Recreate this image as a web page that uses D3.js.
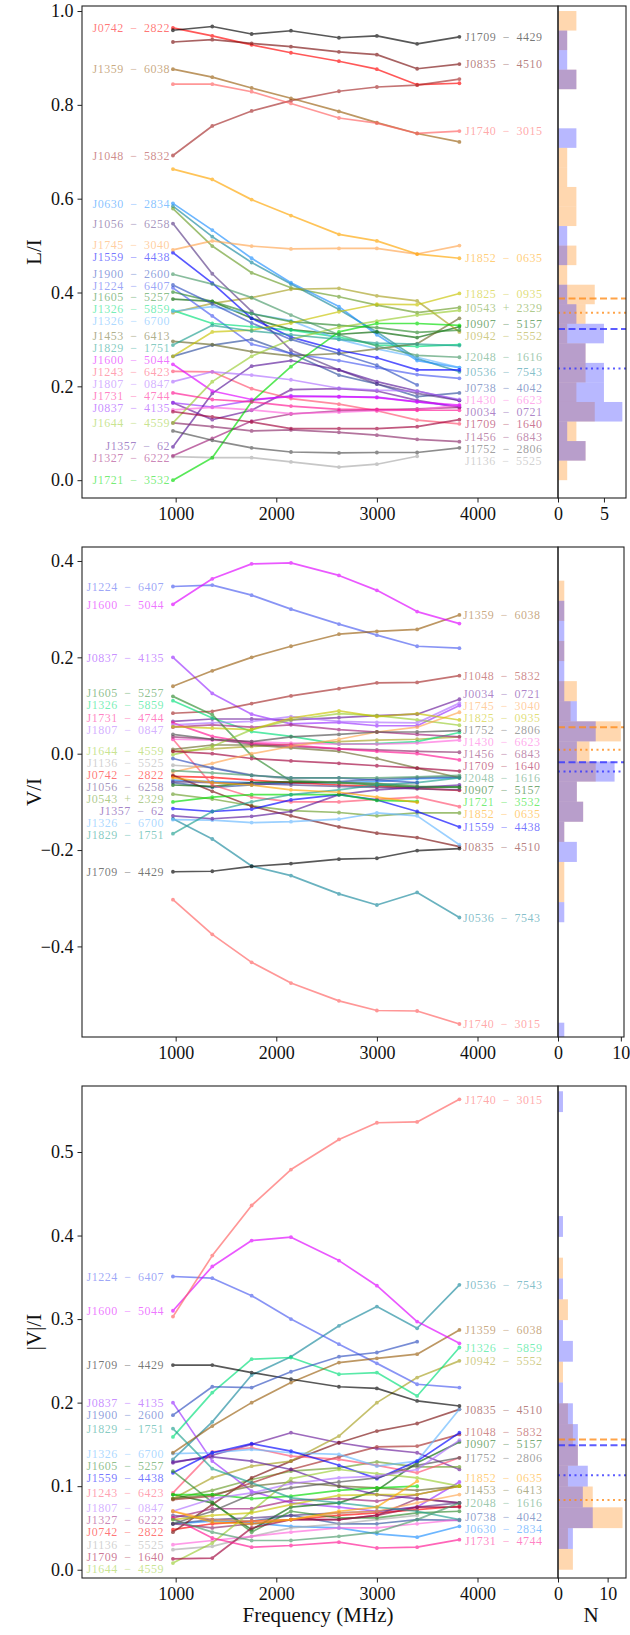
<!DOCTYPE html>
<html><head><meta charset="utf-8">
<script src="https://cdn.jsdelivr.net/npm/d3@7"></script>
<style>
body{margin:0;background:#fff;}
svg text{font-family:"Liberation Serif","DejaVu Serif",serif;fill:#111;}
</style></head><body>
<svg id="chart" width="630" height="1635"></svg>
<script>
// Observing frequencies (MHz)
const freqs = [973, 1364, 1755, 2146, 2623, 3000, 3400, 3820];

const pulsars = [
  "J0034−0721","J0536−7543","J0543+2329","J0630−2834","J0738−4042","J0742−2822","J0835−4510","J0837−4135",
  "J0907−5157","J0942−5552","J1048−5832","J1056−6258","J1136−5525","J1224−6407","J1243−6423","J1326−5859",
  "J1326−6700","J1327−6222","J1357−62","J1359−6038","J1430−6623","J1453−6413","J1456−6843","J1559−4438",
  "J1600−5044","J1605−5257","J1644−4559","J1709−1640","J1709−4429","J1721−3532","J1731−4744","J1740−3015",
  "J1745−3040","J1752−2806","J1807−0847","J1825−0935","J1829−1751","J1852−0635","J1900−2600","J2048−1616"
];

const colours = [
  "#6a1b9a","#1a8a9e","#6b9e2a","#1e90ff","#2f4f9f","#ff0000","#7a0f0f","#9b30ff",
  "#006400","#a8a020","#a52a2a","#5b3c88","#aaaaaa","#4a5cf0","#ff5070","#00e07a",
  "#66b8ff","#a0207a","#5a189a","#9a6010","#ff66dd","#6b6b2a","#8b2a6a","#0000ff",
  "#e000ff","#2e8b2e","#9acd32","#a0003a","#000000","#00dd00","#ff1493","#ff6060",
  "#ffa54f","#505050","#b070ff","#c8c400","#20a090","#ffa500","#3050c0","#4a9a6a"
];

// Linear polarisation fraction L/I
const linFrac = [
  [0.165,0.129,0.149,0.193,0.195,0.19,0.17,0.155],
  [0.584,0.519,0.464,0.418,0.364,0.316,0.259,0.231],
  [0.579,0.499,0.442,0.41,0.391,0.373,0.357,0.368],
  [0.590,0.533,0.473,0.421,0.37,0.31,0.255,0.24],
  [0.264,0.288,0.30,0.27,0.224,0.205,0.178,0.186],
  [0.964,0.947,0.928,0.911,0.893,0.876,0.843,0.846],
  [0.934,0.939,0.931,0.924,0.913,0.907,0.877,0.887],
  [0.165,0.156,0.17,0.18,0.178,0.177,0.167,0.157],
  [0.386,0.381,0.345,0.321,0.311,0.316,0.304,0.327],
  [0.357,0.377,0.389,0.407,0.409,0.393,0.382,0.316],
  [0.692,0.755,0.787,0.809,0.829,0.838,0.842,0.855],
  [0.547,0.44,0.36,0.277,0.235,0.205,0.185,0.17],
  [0.05,0.048,0.048,0.039,0.028,0.034,0.051,null],
  [0.41,0.35,0.29,0.27,0.255,0.24,0.225,0.217],
  [0.232,0.231,0.195,0.174,0.162,0.148,0.128,0.12],
  [0.362,0.334,0.327,0.32,0.305,0.288,0.285,0.289],
  [0.36,0.37,0.355,0.34,0.30,0.28,0.262,0.24],
  [0.052,0.089,0.126,0.141,0.148,0.15,0.152,0.155],
  [0.071,0.185,0.243,0.255,0.235,0.21,0.19,0.17],
  [0.876,0.859,0.836,0.814,0.786,0.762,0.739,0.721],
  [0.15,0.155,0.15,0.142,0.145,0.148,0.15,0.16],
  [0.296,0.289,0.274,0.265,0.27,0.28,0.291,0.345],
  [0.122,0.114,0.105,0.107,0.102,0.096,0.087,0.082],
  [0.485,0.42,0.345,0.305,0.277,0.261,0.235,0.235],
  [0.247,0.19,0.172,0.178,0.178,0.176,0.167,0.16],
  [0.401,0.381,0.355,0.338,0.33,0.325,0.315,0.32],
  [0.122,0.21,0.264,0.30,0.326,0.339,0.352,0.362],
  [0.146,0.135,0.124,0.11,0.11,0.11,0.114,0.129],
  [0.959,0.967,0.951,0.958,0.943,0.947,0.930,0.945],
  [0.0,0.048,0.167,0.242,0.316,0.334,0.334,0.330],
  [0.186,0.172,0.167,0.158,0.151,0.151,0.149,0.149],
  [0.844,0.844,0.828,0.803,0.772,0.761,0.739,0.744],
  [0.491,0.510,0.499,0.493,0.494,0.494,0.482,0.500],
  [0.105,0.085,0.069,0.06,0.058,0.059,0.059,0.069],
  [0.21,0.231,0.224,0.214,0.196,0.192,0.19,0.172],
  [0.264,0.316,0.320,0.335,0.359,0.375,0.374,0.398],
  [0.288,0.33,0.318,0.31,0.30,0.292,0.29,0.287],
  [0.663,0.641,0.598,0.564,0.524,0.510,0.482,0.473],
  [0.416,0.376,0.335,0.300,0.27,0.245,0.203,null],
  [0.439,0.418,0.389,0.352,0.31,0.286,0.266,0.262]
];

// Circular polarisation fraction V/I
const circFrac = [
  [0.067,0.072,0.072,0.07,0.075,0.079,0.082,0.113],
  [-0.135,-0.177,-0.233,-0.253,-0.291,-0.314,-0.288,-0.34],
  [-0.084,-0.094,-0.108,-0.118,-0.122,-0.129,-0.123,-0.123],
  [-0.055,-0.058,-0.06,-0.062,-0.06,-0.058,-0.052,-0.05],
  [-0.06,-0.07,-0.065,-0.06,-0.058,-0.053,-0.05,-0.048],
  [-0.047,-0.049,-0.055,-0.06,-0.065,-0.068,-0.072,-0.076],
  [-0.045,-0.078,-0.109,-0.129,-0.152,-0.165,-0.174,-0.193],
  [0.2,0.125,0.082,0.062,0.065,0.058,0.058,0.1],
  [-0.065,-0.068,-0.06,-0.058,-0.06,-0.065,-0.07,-0.069],
  [0.005,0.01,0.015,0.02,0.025,0.028,0.03,0.035],
  [0.084,0.088,0.104,0.12,0.135,0.147,0.148,0.162],
  [-0.058,-0.06,-0.062,-0.065,-0.068,-0.07,-0.073,-0.075],
  [-0.024,-0.029,-0.044,-0.054,-0.06,-0.062,-0.065,null],
  [0.347,0.35,0.329,0.300,0.269,0.246,0.223,0.219],
  [0.03,-0.065,-0.09,-0.1,-0.1,-0.095,-0.09,-0.11],
  [0.110,0.074,0.046,0.036,0.02,0.021,0.025,0.044],
  [-0.137,-0.138,-0.143,-0.141,-0.136,-0.123,-0.129,-0.189],
  [0.055,0.06,0.055,0.06,0.05,0.045,0.04,0.035],
  [-0.129,-0.135,-0.13,-0.12,-0.085,-0.075,-0.07,-0.065],
  [0.14,0.172,0.2,0.223,0.248,0.254,0.258,0.288],
  [0.03,0.028,0.025,0.022,0.02,0.02,0.022,0.028],
  [0.009,0.018,0.018,0.012,0.005,-0.01,-0.03,-0.05],
  [0.035,0.03,0.02,0.015,0.01,0.008,0.005,0.003],
  [-0.114,-0.12,-0.115,-0.096,-0.085,-0.096,-0.12,-0.152],
  [0.310,0.363,0.394,0.396,0.370,0.339,0.295,0.270],
  [0.119,0.081,-0.004,-0.057,-0.06,-0.062,-0.068,-0.07],
  [-0.002,0.015,0.05,0.07,0.083,0.079,0.07,0.059],
  [0.005,0.0,-0.01,-0.015,-0.02,-0.025,-0.03,-0.036],
  [-0.245,-0.244,-0.234,-0.228,-0.219,-0.217,-0.201,-0.197],
  [-0.1,-0.09,-0.085,-0.085,-0.085,-0.097,-0.099,null],
  [0.064,0.036,0.022,0.018,0.01,0.005,0.0,-0.013],
  [-0.303,-0.375,-0.433,-0.476,-0.513,-0.533,-0.534,-0.561],
  [-0.038,-0.02,0.0,0.015,0.03,0.045,0.055,0.086],
  [0.04,0.03,0.025,0.035,0.04,0.045,0.045,0.048],
  [0.06,0.064,0.067,0.077,0.067,0.065,0.064,0.105],
  [0.056,0.053,0.05,0.074,0.089,0.077,0.083,0.07],
  [-0.166,-0.12,-0.1,-0.085,-0.075,-0.065,-0.06,-0.05],
  [-0.05,-0.06,-0.065,-0.075,-0.08,-0.09,-0.101,null],
  [-0.01,-0.03,-0.045,-0.05,-0.05,-0.055,-0.06,null],
  [-0.035,-0.04,-0.045,-0.05,-0.05,-0.05,-0.048,-0.045]
];

// Absolute circular polarisation fraction |V|/I
const absCircFrac = [
  [0.128,0.137,0.15,0.164,0.152,0.145,0.14,0.12],
  [0.132,0.177,0.233,0.255,0.292,0.315,0.289,0.341],
  [0.085,0.095,0.108,0.118,0.122,0.129,0.123,0.123],
  [0.055,0.058,0.056,0.052,0.05,0.043,0.039,0.052],
  [0.055,0.06,0.058,0.065,0.055,0.055,0.06,0.059],
  [0.048,0.055,0.058,0.06,0.065,0.068,0.072,0.076],
  [0.045,0.078,0.11,0.13,0.152,0.166,0.175,0.192],
  [0.2,0.13,0.094,0.08,0.075,0.07,0.075,0.105],
  [0.09,0.08,0.048,0.075,0.08,0.095,0.128,0.153],
  [0.085,0.11,0.124,0.13,0.16,0.2,0.23,0.25],
  [0.084,0.088,0.104,0.12,0.135,0.147,0.148,0.162],
  [0.065,0.06,0.062,0.065,0.068,0.07,0.075,0.08],
  [0.024,0.028,0.04,0.05,0.055,0.06,0.065,null],
  [0.351,0.349,0.328,0.300,0.27,0.247,0.222,0.218],
  [0.092,0.141,0.146,0.136,0.132,0.125,0.116,0.134],
  [0.159,0.212,0.252,0.254,0.234,0.236,0.208,0.266],
  [0.139,0.14,0.144,0.14,0.138,0.124,0.13,0.192],
  [0.062,0.073,0.073,0.083,0.085,0.082,0.09,0.1],
  [0.129,0.135,0.13,0.12,0.1,0.09,0.085,0.08],
  [0.14,0.172,0.2,0.224,0.248,0.253,0.258,0.287],
  [0.03,0.035,0.04,0.045,0.05,0.05,0.055,0.06],
  [0.085,0.09,0.1,0.105,0.1,0.098,0.095,0.1],
  [0.055,0.05,0.055,0.06,0.06,0.065,0.085,0.08],
  [0.116,0.14,0.151,0.142,0.125,0.109,0.13,0.164],
  [0.31,0.363,0.394,0.398,0.37,0.34,0.297,0.271],
  [0.118,0.081,0.045,0.07,0.062,0.062,0.068,0.07],
  [0.008,0.032,0.07,0.109,0.12,0.115,0.11,0.1],
  [0.013,0.014,0.05,0.06,0.06,0.065,0.075,0.075],
  [0.245,0.245,0.236,0.228,0.219,0.217,0.202,0.196],
  [0.09,0.09,0.085,0.088,0.095,0.098,0.1,null],
  [0.062,0.038,0.027,0.029,0.033,0.026,0.027,0.036],
  [0.303,0.376,0.436,0.479,0.515,0.535,0.536,0.563],
  [0.07,0.06,0.058,0.06,0.068,0.07,0.08,0.09],
  [0.055,0.07,0.09,0.098,0.105,0.11,0.125,0.134],
  [0.07,0.085,0.092,0.103,0.11,0.112,0.12,0.155],
  [0.06,0.065,0.068,0.078,0.089,0.09,0.09,0.1],
  [0.169,0.121,0.104,0.086,0.08,0.075,0.07,0.06],
  [0.07,0.057,0.055,0.06,0.07,0.075,0.106,null],
  [0.185,0.219,0.218,0.237,0.255,0.26,0.273,null],
  [0.06,0.045,0.035,0.035,0.04,0.045,0.06,0.08]
];

// Which sources get a name tag on each side of each panel
const linLabelsLeft = ["J0742−2822","J1359−6038","J1048−5832","J0630−2834","J1056−6258","J1745−3040","J1559−4438","J1900−2600","J1224−6407","J1605−5257","J1326−5859","J1326−6700","J1453−6413","J1829−1751","J1600−5044","J1243−6423","J1807−0847","J1731−4744","J0837−4135","J1644−4559","J1357−62","J1327−6222","J1721−3532"];
const linLabelsRight = ["J1709−4429","J0835−4510","J1740−3015","J1852−0635","J1825−0935","J0543+2329","J0907−5157","J0942−5552","J2048−1616","J0536−7543","J0738−4042","J1430−6623","J0034−0721","J1709−1640","J1456−6843","J1752−2806","J1136−5525"];
const circLabelsLeft = ["J1224−6407","J1600−5044","J0837−4135","J1605−5257","J1326−5859","J1731−4744","J1807−0847","J1644−4559","J1136−5525","J0742−2822","J1056−6258","J0543+2329","J1357−62","J1326−6700","J1829−1751","J1709−4429"];
const circLabelsRight = ["J1359−6038","J1048−5832","J0034−0721","J1745−3040","J1825−0935","J1752−2806","J1430−6623","J1456−6843","J1709−1640","J2048−1616","J0907−5157","J1721−3532","J1852−0635","J1559−4438","J0835−4510","J0536−7543","J1740−3015"];
const absLabelsLeft = ["J1224−6407","J1600−5044","J1709−4429","J0837−4135","J1900−2600","J1829−1751","J1326−6700","J1605−5257","J1559−4438","J1243−6423","J1807−0847","J1327−6222","J0742−2822","J1136−5525","J1709−1640","J1644−4559"];
const absLabelsRight = ["J1740−3015","J0536−7543","J1359−6038","J1326−5859","J0942−5552","J0835−4510","J1048−5832","J0907−5157","J1752−2806","J1852−0635","J1453−6413","J2048−1616","J0738−4042","J0630−2834","J1731−4744"];

// Histograms of the lowest (first) and highest (last) frequency values: bin start, bin width, counts from low to high
const linHistStart = 0, linHistWidth = 1 / 24;
const linHistFirst = [1,3,2,4,2,3,3,1,3,4,1,2,0,2,2,1,1,0,0,0,2,0,1,2];
const linHistLast  = [0,3,1,7,5,5,3,5,2,1,0,1,1,0,0,0,0,2,0,0,2,1,1,0];
const linStats = [0.387, 0.357, 0.322, 0.238];   // mean/median first, mean/median last

const circHistStart = -0.600, circHistWidth = 0.0417;
const circHistFirst = [0,0,0,0,0,0,0,1,1,0,1,4,3,6,5,10,2,3,0,1,0,1,1];
const circHistLast  = [1,0,0,0,0,0,1,0,0,3,1,4,3,9,3,6,3,1,1,1,1,1,0];
const circStats = [0.055, 0.008, -0.018, -0.037];

const absHistStart = 0, absHistWidth = 0.0249;
const absHistFirst = [3,2,13,7,2,4,3,2,0,1,0,0,2,0,1,0,0,0,0,0,0,0,0];
const absHistLast  = [0,3,7,5,6,4,4,3,1,0,3,1,0,1,0,0,1,0,0,0,0,0,1];
const absStats = [0.156, 0.0836, 0.149, 0.113];

// ---------------------------------------------------------------------------
const svg = d3.select("#chart");
const mainLeft = 82, mainRight = 558;
const x = d3.scaleLinear().domain([69, 4800]).range([mainLeft, mainRight]);
const FIRST_COL = "#ff8c1a", LAST_COL = "#3333ff";
const pretty = n => n.replace("−", "\u2002−\u2002").replace("+", "\u2002+\u2002");

const panels = [
  {values: linFrac, title: "L/I", top: 6, bottom: 498, domain: [-0.038, 1.0107],
   ticks: [0, 0.2, 0.4, 0.6, 0.8, 1.0], leftEnd: 170, rightStart: 465,
   leftNames: linLabelsLeft, rightNames: linLabelsRight,
   hist: {start: linHistStart, width: linHistWidth, first: linHistFirst, last: linHistLast, stats: linStats},
   histRight: 626, histMax: 7.4, histTicks: [0, 5]},
  {values: circFrac, title: "V/I", top: 547, bottom: 1037, domain: [-0.588, 0.429],
   ticks: [-0.4, -0.2, 0, 0.2, 0.4], leftEnd: 164, rightStart: 463,
   leftNames: circLabelsLeft, rightNames: circLabelsRight,
   hist: {start: circHistStart, width: circHistWidth, first: circHistFirst, last: circHistLast, stats: circStats},
   histRight: 624, histMax: 10.5, histTicks: [0, 10]},
  {values: absCircFrac, title: "|V|/I", top: 1086, bottom: 1578, domain: [-0.0099, 0.579],
   ticks: [0, 0.1, 0.2, 0.3, 0.4, 0.5], leftEnd: 164, rightStart: 465,
   leftNames: absLabelsLeft, rightNames: absLabelsRight,
   hist: {start: absHistStart, width: absHistWidth, first: absHistFirst, last: absHistLast, stats: absStats},
   histRight: 626, histMax: 13.7, histTicks: [0, 10]}
];

// push labels apart so they keep a minimum vertical gap
function spread(items, gap, lo, hi) {
  items.sort((a, b) => a.y - b.y);
  for (let it = 0; it < 600; it++) {
    let moved = false;
    for (let i = 1; i < items.length; i++) {
      const d = items[i].y - items[i - 1].y;
      if (d < gap - 0.01) { const s = (gap - d) / 2; items[i].y += s; items[i - 1].y -= s; moved = true; }
    }
    if (items.length) {
      if (items[0].y < lo) { items[0].y = lo; moved = true; }
      const n = items.length - 1;
      if (items[n].y > hi) { items[n].y = hi; moved = true; }
    }
    if (!moved) break;
  }
}

panels.forEach((p, pi) => {
  const y = d3.scaleLinear().domain(p.domain).range([p.bottom, p.top]);
  const g = svg.append("g");
  const clipId = "clip" + pi, hClipId = "hclip" + pi;
  svg.append("clipPath").attr("id", clipId).append("rect")
    .attr("x", mainLeft).attr("y", p.top).attr("width", mainRight - mainLeft).attr("height", p.bottom - p.top);
  svg.append("clipPath").attr("id", hClipId).append("rect")
    .attr("x", mainRight).attr("y", p.top).attr("width", p.histRight - mainRight).attr("height", p.bottom - p.top);

  // series lines and points
  const line = d3.line().defined(d => d.v !== null).x(d => x(d.f)).y(d => y(d.v));
  const plot = g.append("g").attr("clip-path", `url(#${clipId})`);
  pulsars.forEach((name, i) => {
    const pts = freqs.map((f, j) => ({f, v: p.values[i][j]}));
    const s = plot.append("g").attr("opacity", 0.65);
    s.append("path").attr("d", line(pts)).attr("fill", "none")
      .attr("stroke", colours[i]).attr("stroke-width", 1.7).attr("stroke-linejoin", "round");
    s.selectAll("circle").data(pts.filter(d => d.v !== null)).join("circle")
      .attr("cx", d => x(d.f)).attr("cy", d => y(d.v)).attr("r", 1.9).attr("fill", colours[i]);
  });

  // name tags
  const tag = (names, side) => {
    const items = names.map(n => {
      const i = pulsars.indexOf(n);
      const vals = p.values[i].filter(v => v !== null);
      const v = side === "left" ? vals[0] : vals[vals.length - 1];
      return {n, i, y: y(v)};
    });
    spread(items, 12, p.top + 6, p.bottom - 6);
    g.append("g").selectAll("text").data(items).join("text")
      .attr("x", side === "left" ? p.leftEnd : p.rightStart)
      .attr("y", d => d.y).attr("dy", "0.35em")
      .attr("text-anchor", side === "left" ? "end" : "start")
      .style("font-size", "12px").style("letter-spacing", "0.5px")
      .style("fill", d => colours[d.i]).attr("fill-opacity", 0.55)
      .text(d => pretty(d.n));
  };
  tag(p.leftNames, "left");
  tag(p.rightNames, "right");

  // histogram panel
  const hx = d3.scaleLinear().domain([0, p.histMax]).range([mainRight, p.histRight]);
  const hg = g.append("g").attr("clip-path", `url(#${hClipId})`);
  const bars = (counts, col) => {
    hg.append("g").selectAll("rect").data(counts.map((c, k) => ({c, k})).filter(d => d.c > 0)).join("rect")
      .attr("x", hx(0))
      .attr("y", d => y(p.hist.start + (d.k + 1) * p.hist.width))
      .attr("width", d => hx(d.c) - hx(0))
      .attr("height", d => y(p.hist.start + d.k * p.hist.width) - y(p.hist.start + (d.k + 1) * p.hist.width))
      .attr("fill", col).attr("fill-opacity", 0.35);
  };
  bars(p.hist.first, FIRST_COL);
  bars(p.hist.last, LAST_COL);
  const st = p.hist.stats;
  [[st[0], FIRST_COL, "7,3.5"], [st[1], FIRST_COL, "2,3.5"], [st[2], LAST_COL, "7,3.5"], [st[3], LAST_COL, "2,3.5"]]
    .forEach(([v, c, dash]) => {
      hg.append("line").attr("x1", mainRight).attr("x2", p.histRight)
        .attr("y1", y(v)).attr("y2", y(v)).attr("stroke", c).attr("stroke-opacity", 0.8)
        .attr("stroke-width", 2).attr("stroke-dasharray", dash);
    });

  // axes
  const yAxis = g.append("g").attr("transform", `translate(${mainLeft},0)`)
    .call(d3.axisLeft(y).tickValues(p.ticks).tickFormat(d3.format(".1f")).tickSize(4.5).tickPadding(4));
  const xAxis = g.append("g").attr("transform", `translate(0,${p.bottom})`)
    .call(d3.axisBottom(x).tickValues([1000, 2000, 3000, 4000]).tickFormat(d3.format("d")).tickSize(4.5).tickPadding(5));
  const hAxis = g.append("g").attr("transform", `translate(0,${p.bottom})`)
    .call(d3.axisBottom(hx).tickValues(p.histTicks).tickFormat(d3.format("d")).tickSize(4.5).tickPadding(5));
  [yAxis, xAxis, hAxis].forEach(a => {
    a.select(".domain").remove();
    a.selectAll("text").style("font-size", "18px").style("font-family", '"Liberation Serif", serif').attr("fill", "#111");
    a.selectAll("line").attr("stroke", "#222");
  });

  // frames
  g.append("rect").attr("x", mainLeft).attr("y", p.top).attr("width", mainRight - mainLeft).attr("height", p.bottom - p.top)
    .attr("fill", "none").attr("stroke", "#222").attr("stroke-width", 1.1);
  g.append("rect").attr("x", mainRight).attr("y", p.top).attr("width", p.histRight - mainRight).attr("height", p.bottom - p.top)
    .attr("fill", "none").attr("stroke", "#222").attr("stroke-width", 1.1);

  // y title
  g.append("text").attr("transform", `translate(41,${(p.top + p.bottom) / 2}) rotate(-90)`)
    .attr("text-anchor", "middle").style("font-size", "21px").text(p.title);
});

svg.append("text").attr("x", 318).attr("y", 1622).attr("text-anchor", "middle")
  .style("font-size", "21px").text("Frequency (MHz)");
svg.append("text").attr("x", 591).attr("y", 1622).attr("text-anchor", "middle")
  .style("font-size", "21px").text("N");
</script>
</body></html>
